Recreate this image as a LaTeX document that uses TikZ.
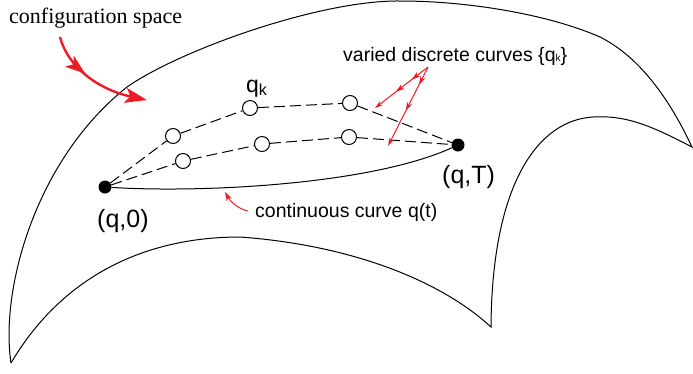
\documentclass[tikz,border=0pt]{standalone}
\usepackage{fontspec}
\setmainfont{Liberation Serif}
\setsansfont{Liberation Sans}
\usetikzlibrary{arrows.meta, decorations.markings}
\definecolor{arrowred}{RGB}{237,28,36}

\begin{document}
\begin{tikzpicture}[x=1pt, y=-1pt,
    endpoint/.style={circle, fill=black, inner sep=0pt, minimum size=13pt},
    knot/.style={circle, draw, fill=white, inner sep=0pt, minimum size=15pt, line width=1pt},
    dashline/.style={dash pattern=on 11pt off 5pt, line width=1pt},
    boundary/.style={line width=1pt},
    sanstext/.style={font=\sffamily\fontsize{19.5}{21}\selectfont, inner sep=0pt},
    bigtext/.style={font=\sffamily\fontsize{25}{27}\selectfont, inner sep=0pt},
    pointer/.style={arrowred, line width=1pt, -{Stealth[length=9pt, width=6pt]}},
    midpointer/.style={arrowred, line width=1pt, -{Stealth[length=8pt, width=5pt]},
        postaction={decorate}, decoration={markings,
        mark=at position #1 with {\arrow{Stealth[length=8pt, width=5pt]}}}},
    bigpointer/.style={arrowred, line width=2.4pt, -{Stealth[length=22pt, width=15pt, inset=5pt]},
        postaction={decorate}, decoration={markings,
        mark=at position 0.4 with {\arrow{Stealth[length=20pt, width=14pt, inset=5pt]}}}}
]
  \useasboundingbox (0,0) rectangle (693,373);

  % configuration space outline
  \draw[boundary] (11,363) .. controls (0,290) and (35,160) .. (127,87)
    .. controls (180,50) and (320,0) .. (400,1)
    .. controls (470,1) and (550,15) .. (600,37)
    .. controls (640,57) and (670,100) .. (692,147)
    .. controls (650,125) and (625,115) .. (593,117)
    .. controls (540,120) and (492,180) .. (491,327)
    .. controls (440,280) and (350,245) .. (240,237)
    .. controls (140,237) and (60,280) .. (11,363);

  % end points and discrete points
  \node[endpoint] (q0) at (105,187) {};
  \node[endpoint] (qT) at (458,145) {};
  \node[knot] (a1) at (173,136) {};
  \node[knot] (a2) at (250,108) {};
  \node[knot] (a3) at (350,103) {};
  \node[knot] (b1) at (183,161) {};
  \node[knot] (b2) at (262,144) {};
  \node[knot] (b3) at (349,137) {};

  \draw[dashline] (q0) -- (a1) -- (a2) -- (a3) -- (qT);
  \draw[dashline] (q0) -- (b1) -- (b2) -- (b3) -- (qT);
  \draw[boundary] (q0) .. controls (200,193) and (370,185) .. (qT);

  % labels
  \node[bigtext, anchor=base west] (lq0) at (97,227) {(q,0)};
  \node[bigtext, anchor=base west] (lqT) at (442,183) {(q,T)};
  \node[font=\sffamily\fontsize{23}{25}\selectfont, inner sep=0pt, anchor=base west] (lqk) at (246,92) {q$_\mathsf{k}$};
  \node[sanstext, anchor=base west] (lvar) at (343,61)
    {varied discrete curves \{q{\fontsize{10}{10}\selectfont k}\}};
  \node[sanstext, anchor=base west] (lcont) at (255,217) {continuous curve q(t)};
  \node[font=\fontsize{22}{24}\selectfont, inner sep=0pt, anchor=base west] (lcfg) at (9,23) {configuration space};

  % pointers
  \coordinate (varfrom) at (428,67);
  \coordinate (varto1) at (375,108);
  \coordinate (varto2) at (388,146);
  \coordinate (contfrom) at (248,211);
  \coordinate (contto) at (225,192);
  \coordinate (cfgfrom) at (60,37);
  \coordinate (cfgto) at (147,100);

  \draw[midpointer=0.6, postaction={decorate}, decoration={markings,
        mark=at position 0.3 with {\arrow{Stealth[length=8pt, width=5pt]}}}] (varfrom) -- (varto1);
  \draw[midpointer=0.55, postaction={decorate}, decoration={markings,
        mark=at position 0.22 with {\arrow{Stealth[length=8pt, width=5pt]}}}] (varfrom) -- (varto2);
  \draw[pointer] (contfrom) .. controls (238,209) and (230,201) .. (contto);
  \draw[bigpointer] (cfgfrom) .. controls (68,68) and (100,90) .. (cfgto);
\end{tikzpicture}
\end{document}
